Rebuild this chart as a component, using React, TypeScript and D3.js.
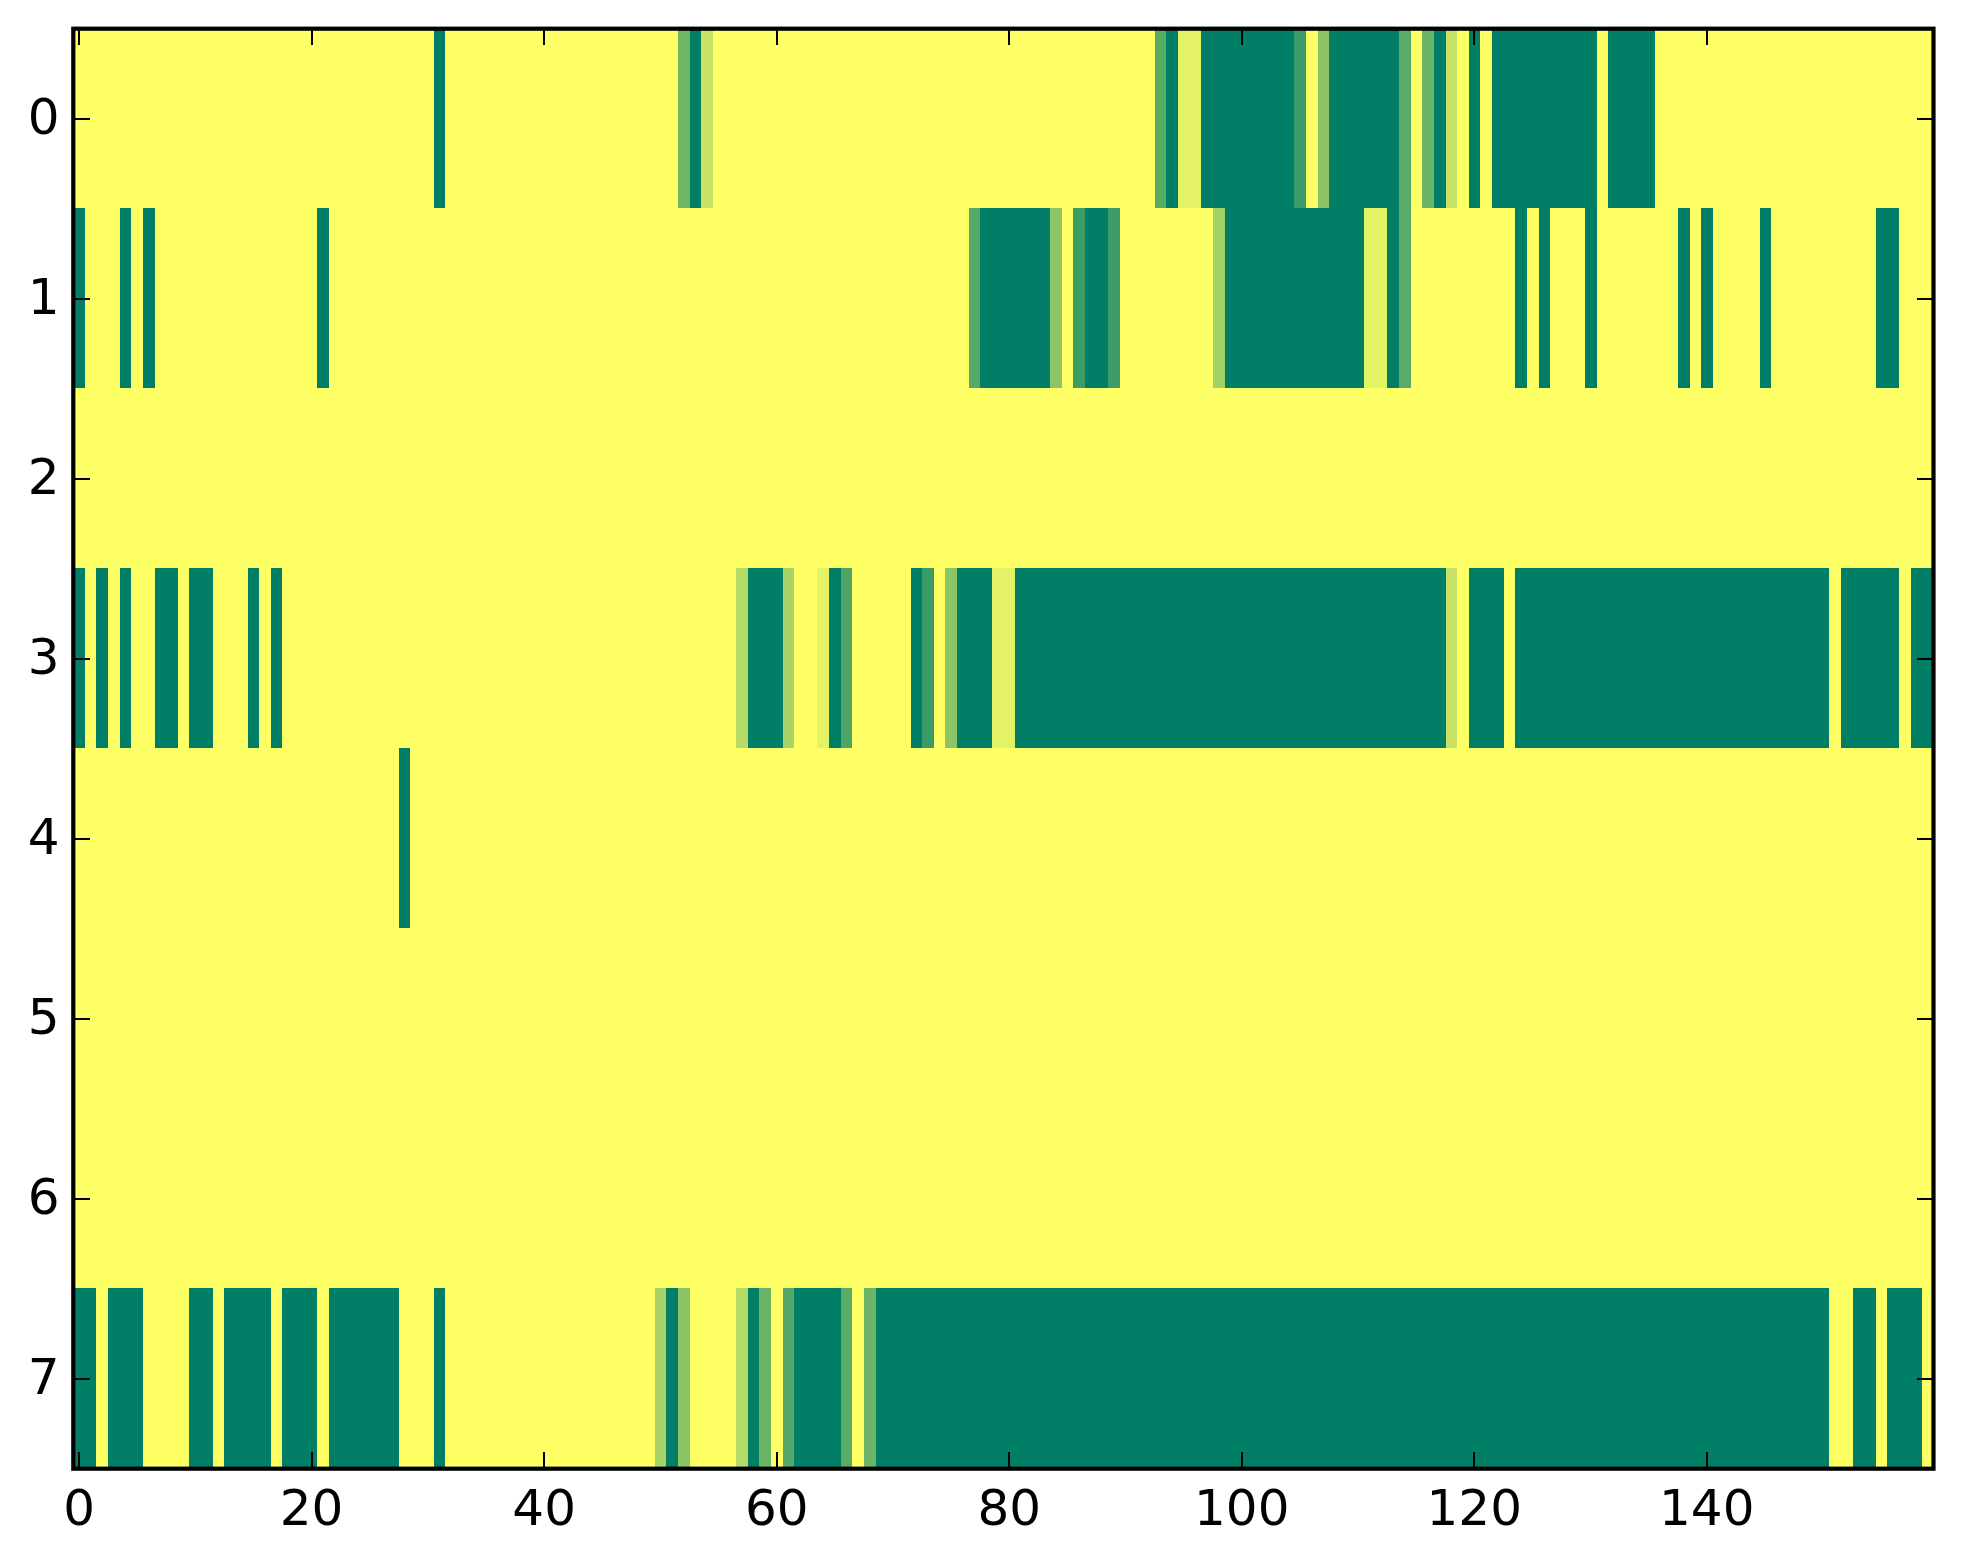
import React from "react";
import * as d3 from "d3";

const WIDTH = 1963;
const HEIGHT = 1564;
const N_COLS = 160;

// runs: [first column, last column, value]
type Run = [number, number, number];
const row0: Run[] = [[31,31,1],[52,52,.57],[53,53,1],[54,54,.215],[93,93,.65],[94,94,1],[95,96,.105],[97,104,1],[105,105,.77],[107,107,.45],[108,113,1],[114,114,.65],[116,116,.58],[117,117,1],[118,118,.215],[120,120,1],[122,130,1],[132,135,1]];
const row1: Run[] = [[0,0,1],[4,4,1],[6,6,1],[21,21,1],[77,77,.67],[78,83,1],[84,84,.45],[86,86,.77],[87,88,1],[89,89,.77],[98,98,.37],[99,110,1],[111,112,.105],[113,113,1],[114,114,.65],[124,124,1],[126,126,1],[130,130,1],[138,138,1],[140,140,1],[145,145,1],[155,156,1]];
const row2: Run[] = [];
const row3: Run[] = [[0,0,1],[2,2,1],[4,4,1],[7,8,1],[10,11,1],[15,15,1],[17,17,1],[57,57,.29],[58,60,1],[61,61,.34],[64,64,.105],[65,65,1],[66,66,.7],[72,72,1],[73,73,.77],[75,75,.45],[76,78,1],[79,80,.105],[81,117,1],[118,118,.215],[120,122,1],[124,150,1],[152,156,1],[158,159,1]];
const row4: Run[] = [[28,28,1]];
const row5: Run[] = [];
const row6: Run[] = [];
const row7: Run[] = [[0,1,1],[3,5,1],[10,11,1],[13,16,1],[18,20,1],[22,27,1],[31,31,1],[50,50,.34],[51,51,1],[52,52,.45],[57,57,.29],[58,58,1],[59,59,.58],[61,61,.67],[62,65,1],[66,66,.65],[68,68,.58],[69,150,1],[153,154,1],[156,158,1]];
const rows: Run[][] = [row0,row1,row2,row3,row4,row5,row6,row7];

const xTickValues = [0,20,40,60,80,100,120,140];
const yTickValues = [0,1,2,3,4,5,6,7];

const LEFT = 73.3, RIGHT = 1933.5, TOP = 28.7, BOTTOM = 1468.7;
const FONT = "'DejaVu Sans', sans-serif";
const FONT_SIZE = 50;
const TICK = 16.7;

export default function App() {
  const x = d3.scaleLinear().domain([-0.5, N_COLS - 0.5]).range([LEFT, RIGHT]);
  const y = d3.scaleLinear().domain([-0.5, rows.length - 0.5]).range([TOP, BOTTOM]);
  // the image sits very slightly off the axes, as in the reference
  const cellX = d3.scaleLinear().domain([-0.5, N_COLS - 0.5]).range([73.1, 1934]);
  const cellY = d3.scaleLinear().domain([-0.5, rows.length - 0.5]).range([27.5, 1468.2]);
  const color = d3.scaleLinear<string>().domain([0, 1]).range(["#ffff66", "#007f66"]);

  return (
    <svg width={WIDTH} height={HEIGHT} viewBox={`0 0 ${WIDTH} ${HEIGHT}`}
      style={{ position: "absolute", left: 0, top: 0, background: "#fff" }}>
      <defs>
        <clipPath id="plot"><rect x={LEFT} y={TOP} width={RIGHT - LEFT} height={BOTTOM - TOP} /></clipPath>
      </defs>
      <rect x={LEFT} y={TOP} width={RIGHT - LEFT} height={BOTTOM - TOP} fill={color(0)} />
      <g shapeRendering="crispEdges" clipPath="url(#plot)">
        {rows.flatMap((runs, r) =>
          runs.map(([a, b, v], i) => (
            <rect key={`${r}-${i}`} x={cellX(a - 0.5)} y={cellY(r - 0.5)}
              width={cellX(b + 0.5) - cellX(a - 0.5)} height={cellY(r + 0.5) - cellY(r - 0.5)} fill={color(v)} />
          ))
        )}
      </g>
      <g stroke="#000" strokeWidth={2} shapeRendering="crispEdges">
        {xTickValues.map((t) => (
          <g key={t}>
            <line x1={x(t)} x2={x(t)} y1={TOP} y2={TOP + TICK} />
            <line x1={x(t)} x2={x(t)} y1={BOTTOM} y2={BOTTOM - TICK} />
          </g>
        ))}
        {yTickValues.map((t) => (
          <g key={t}>
            <line x1={LEFT} x2={LEFT + TICK} y1={y(t)} y2={y(t)} />
            <line x1={RIGHT} x2={RIGHT - TICK} y1={y(t)} y2={y(t)} />
          </g>
        ))}
      </g>
      <rect x={LEFT} y={TOP} width={RIGHT - LEFT} height={BOTTOM - TOP} fill="none" stroke="#000" strokeWidth={4.2} />
      <g fontFamily={FONT} fontSize={FONT_SIZE} fill="#000">
        {xTickValues.map((t) => (
          <text key={t} x={x(t)} y={1524.5} textAnchor="middle">{t}</text>
        ))}
        {yTickValues.map((t) => (
          <text key={t} x={59.5} y={y(t) + 15} textAnchor="end">{t}</text>
        ))}
      </g>
    </svg>
  );
}
